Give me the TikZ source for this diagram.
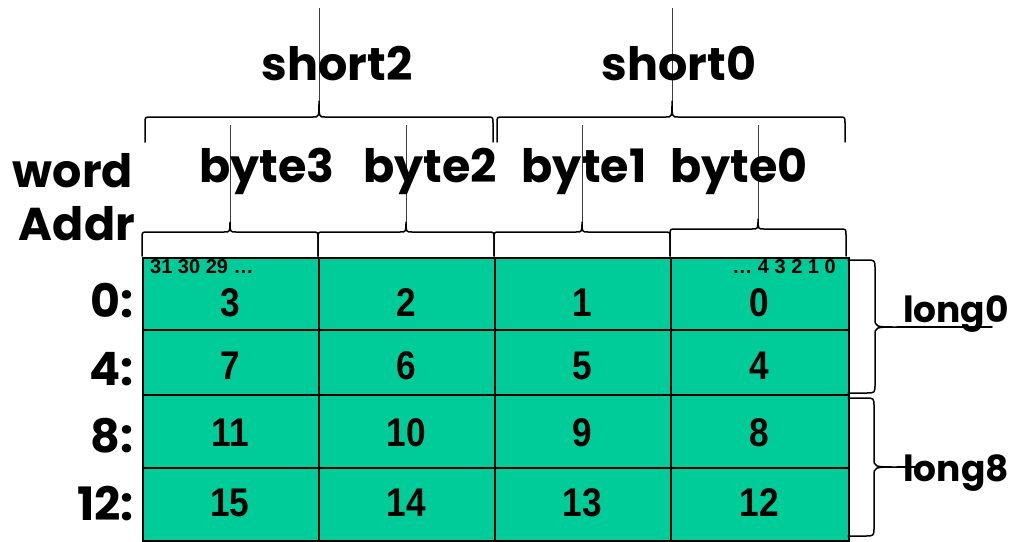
\documentclass[tikz,border=0pt]{standalone}
\usepackage{fontspec}
\setmainfont{Poppins}
\newfontfamily\numfont{Liberation Sans}
\definecolor{cellgreen}{RGB}{0,204,153}
\definecolor{linkgray}{RGB}{60,60,60}

% horizontal curly brace: left x, right x, tip x, end y, flat y, tip y, corner radius
\newcommand\membrace[7]{%
  \draw[brace] (#1,#4) -- (#1,#5+#7) .. controls (#1,#5) .. (#1+#7,#5)
    -- (#3-#7,#5) .. controls (#3,#5) .. (#3,#6)
    .. controls (#3,#5) .. (#3+#7,#5)
    -- (#2-#7,#5) .. controls (#2,#5) .. (#2,#5+#7) -- (#2,#4);}
% vertical curly brace: top y, bottom y, tip y, end x, flat x, tip x, corner radius
\newcommand\sidebrace[7]{%
  \draw[brace] (#4,#1) -- (#5-#7,#1) .. controls (#5,#1) .. (#5,#1+#7)
    -- (#5,#3-#7) .. controls (#5,#3) .. (#6,#3)
    .. controls (#5,#3) .. (#5,#3+#7)
    -- (#5,#2-#7) .. controls (#5,#2) .. (#5-#7,#2) -- (#4,#2);}

\begin{document}
\begin{tikzpicture}[x=1pt,y=-1pt,
  cell/.style={draw=black, line width=2pt, fill=cellgreen, inner sep=0pt, anchor=north west},
  num/.style={font=\numfont\fontsize{40}{44}\selectfont\bfseries, inner sep=0pt},
  bits/.style={font=\numfont\fontsize{20}{22}\selectfont\bfseries, inner sep=0pt},
  hand/.style={font=\fontsize{46}{50}\selectfont\bfseries, inner sep=0pt},
  handsmall/.style={font=\fontsize{36}{40}\selectfont\bfseries, inner sep=0pt},
  brace/.style={line width=1.5pt, line cap=round, line join=round},
  link/.style={line width=0.9pt, draw=linkgray}]
\useasboundingbox (0,0) rectangle (1011,541);

% memory cells
\foreach \r/\top/\h/\yc in {0/257/72/303,1/329/65/366,2/394/73/433,3/467/73/503}{
  \foreach \c/\left/\w/\xc in {0/142/176/230,1/318/176/406,2/494/176/582,3/670/178/759}{
    \node[cell, minimum width=\w pt, minimum height=\h pt] (cell-\r-\c) at (\left,\top) {};
    \pgfmathtruncatemacro\val{4*\r+3-\c}
    \node[num] (num-\r-\c) at (\xc,\yc) {\scalebox{0.88}[1]{\val}};
  }}

% bit numbering inside the first word
\node[bits, anchor=base west] (bits-hi) at (150,273) {31 30 29 …};
\node[bits, anchor=base east] (bits-lo) at (836,273) {… 4 3 2 1 0};

% byte braces
\membrace{142}{318}{230}{256}{232}{222}{6}
\membrace{318}{494}{406}{256}{232}{222}{6}
\membrace{494}{670}{582}{256}{232}{222}{6}
\membrace{670}{846}{758}{256}{229}{219}{6}
% short braces
\membrace{145}{493}{319}{142}{117}{101}{6}
\membrace{497}{845}{672}{142}{117}{101}{6}
% long braces
\sidebrace{260}{393}{327}{848}{875}{897}{9}
\sidebrace{398}{536}{467}{848}{874}{897}{9}

% brace tips and the free ends of their lines
\coordinate (tip-b3) at (230,222); \coordinate (end-b3) at (230,125);
\coordinate (tip-b2) at (406,222); \coordinate (end-b2) at (406,125);
\coordinate (tip-b1) at (582,222); \coordinate (end-b1) at (582,125);
\coordinate (tip-b0) at (758,219); \coordinate (end-b0) at (758,125);
\coordinate (tip-s2) at (319,101); \coordinate (end-s2) at (319,8);
\coordinate (tip-s0) at (672,101); \coordinate (end-s0) at (672,8);
\coordinate (tip-l0) at (897,327); \coordinate (end-l0) at (992,327);
\coordinate (tip-l8) at (897,467); \coordinate (end-l8) at (918,467);
\foreach \t in {b3,b2,b1,b0,s2,s0}{\draw[link] (tip-\t) -- (end-\t);}
\draw[brace] (tip-l0) -- (end-l0);
\draw[brace] (tip-l8) -- (end-l8);

% labels
\node[hand, anchor=base] (short2) at (337,80) {short2};
\node[hand, anchor=base] (short0) at (679,80) {short0};
\node[hand, anchor=base] (byte3) at (267,182) {byte3};
\node[hand, anchor=base] (byte2) at (430,182) {byte2};
\node[hand, anchor=base] (byte1) at (584,182) {byte1};
\node[hand, anchor=base] (byte0) at (739,182) {byte0};
\node[hand, anchor=base] (word) at (73,187) {word};
\node[hand, anchor=base] (addr) at (77,240) {Addr};
\node[hand, anchor=base east] (a0) at (134,317) {0:};
\node[hand, anchor=base east] (a4) at (134,385) {4:};
\node[hand, anchor=base east] (a8) at (134,452) {8:};
\node[hand, anchor=base east] (a12) at (134,520) {12:};
\node[handsmall, anchor=base] (long0) at (956,322) {long0};
\node[handsmall, anchor=base] (long8) at (956,481) {long8};
\end{tikzpicture}
\end{document}
